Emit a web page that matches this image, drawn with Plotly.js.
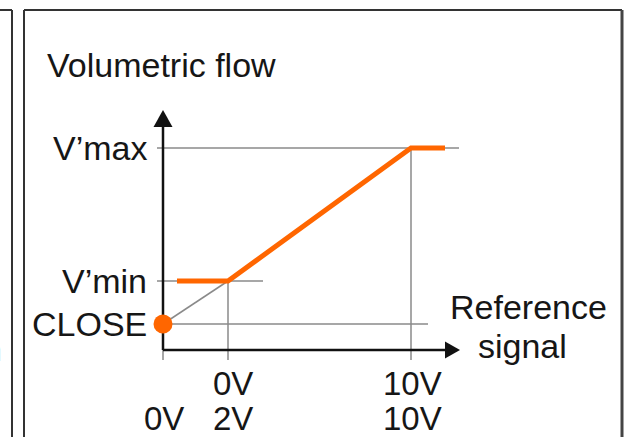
<!DOCTYPE html>
<html>
<head>
<meta charset="utf-8">
<script src="https://cdn.plot.ly/plotly-3.0.1.min.js"></script>
<style>html,body{margin:0;padding:0;background:#fff;}#chart{width:627px;height:437px;}</style>
</head>
<body>
<div id="chart"></div>
<script>
// ---- schematic data (x: signal position, y: volumetric flow, arbitrary schematic units) ----
const yTickVals   = [26, 69, 202];
const yTickLabels = ["CLOSE", "V\u2019min", "V\u2019max"];
const xTickVals   = [0, 65, 248];
const xTickRow1   = ["", "0V", "10V"];   // 0–10 V signal
const xTickRow2   = ["0V", "2V", "10V"]; // 2–10 V signal
const curveX = [14, 65, 248, 282];
const curveY = [69, 69, 202, 202];
const closeX = [0];
const closeY = [26];
const diagX  = [0, 65];
const diagY  = [26, 69];
const titleText = "Volumetric flow";
const xTitleLines = ["Reference", "signal"];

// ---- styling ----
const ORANGE = "#ff6600";
const GRAY = "#8a8a8a";
const BLACK = "#111111";
const FONT = {family: "Liberation Sans, Arial, sans-serif", size: 34, color: "#161616"};
const TICKFONT = {family: "Liberation Sans, Arial, sans-serif", size: 33, color: "#161616"};

const traces = [];
function seg(x, y, color, width) {
  traces.push({x: x, y: y, mode: "lines", line: {color: color, width: width}, hoverinfo: "skip", cliponaxis: false});
}
// horizontal guides at flow levels
seg([-6, 296], [yTickVals[2], yTickVals[2]], GRAY, 1.5);
seg([-6, 100], [yTickVals[1], yTickVals[1]], GRAY, 1.5);
seg([0, 265], [yTickVals[0], yTickVals[0]], GRAY, 1.5);
// vertical guides at signal ticks
seg([xTickVals[0], xTickVals[0]], [0, -10], GRAY, 1.5);
seg([xTickVals[1], xTickVals[1]], [yTickVals[1], -10], GRAY, 1.5);
seg([xTickVals[2], xTickVals[2]], [yTickVals[2], -10], GRAY, 1.5);
// diagonal from CLOSE to knee
seg(diagX, diagY, GRAY, 1.5);
// axes
seg([0, 0], [0, 225], BLACK, 2.5);
seg([0, 284], [0, 0], BLACK, 2.5);
// characteristic curve
traces.push({x: curveX, y: curveY, mode: "lines", line: {color: ORANGE, width: 5}, hoverinfo: "skip", cliponaxis: false});
traces.push({x: closeX, y: closeY, mode: "markers", marker: {color: ORANGE, size: 19}, hoverinfo: "skip", cliponaxis: false});

const W = 627, H = 437;
function px(x) { return x / W; }
function py(y) { return 1 - y / H; }
const border = {color: "#333333", width: 2};
const shapes = [
  // arrowheads
  {type: "path", path: "M -9.5,223 L 9.5,223 L 0,240 Z", xref: "x", yref: "y", fillcolor: BLACK, line: {width: 0}},
  {type: "path", path: "M 282,-8.5 L 282,8.5 L 297,0 Z", xref: "x", yref: "y", fillcolor: BLACK, line: {width: 0}},
  // frame lines
  {type: "line", xref: "paper", yref: "paper", x0: px(12), x1: px(12), y0: py(10), y1: py(440), line: border},
  {type: "line", xref: "paper", yref: "paper", x0: px(-2), x1: px(12), y0: py(10), y1: py(10), line: border},
  {type: "line", xref: "paper", yref: "paper", x0: px(24), x1: px(24), y0: py(10), y1: py(440), line: border},
  {type: "line", xref: "paper", yref: "paper", x0: px(24), x1: px(622), y0: py(10), y1: py(10), line: border},
  {type: "line", xref: "paper", yref: "paper", x0: px(622), x1: px(622), y0: py(10), y1: py(440), line: {color: "#444444", width: 3}}
];

const annotations = [];
function txt(text, x, y, xanchor, opts, font) {
  annotations.push(Object.assign({text: text, x: x, y: y, xref: "x", yref: "y", showarrow: false,
    xanchor: xanchor, yanchor: "middle", font: font || FONT}, opts || {}));
}
txt(titleText, -118, 285, "left");
yTickVals.forEach((v, i) => txt(yTickLabels[i], -14, v, "right"));
const labelShift = [1, 5, 1];
xTickVals.forEach((v, i) => {
  if (xTickRow1[i]) txt(xTickRow1[i], v, -33, "center", {xshift: labelShift[i]}, TICKFONT);
  txt(xTickRow2[i], v, -68, "center", {xshift: labelShift[i]}, TICKFONT);
});
txt(xTitleLines[0], 285, 43, "left");
txt(xTitleLines[1], 313, 4, "left");
// fragment of neighbouring panel text at the far left edge
annotations.push({text: "n", x: px(4), y: py(350), xref: "paper", yref: "paper", showarrow: false,
  xanchor: "right", yanchor: "middle", font: {family: FONT.family, size: 32, color: "#1f4fa0"}});

const layout = {
  width: W, height: H,
  margin: {l: 0, r: 0, t: 0, b: 0, pad: 0},
  paper_bgcolor: "#ffffff", plot_bgcolor: "#ffffff",
  showlegend: false,
  xaxis: {range: [-163, 464], visible: false, fixedrange: true},
  yaxis: {range: [-87, 350], visible: false, fixedrange: true},
  shapes: shapes,
  annotations: annotations
};
Plotly.newPlot("chart", traces, layout, {staticPlot: true, displayModeBar: false});
</script>
</body>
</html>
